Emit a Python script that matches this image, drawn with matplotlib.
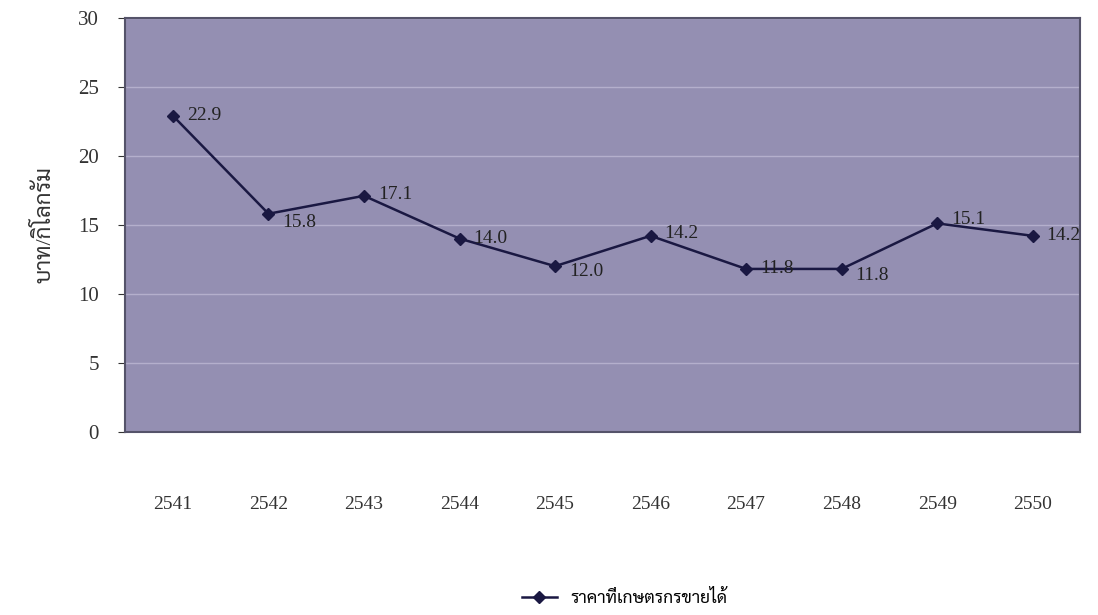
import matplotlib.pyplot as plt
from matplotlib import font_manager

# data
years = ["2541", "2542", "2543", "2544", "2545", "2546", "2547", "2548", "2549", "2550"]
price = [22.9, 15.8, 17.1, 14.0, 12.0, 14.2, 11.8, 11.8, 15.1, 14.2]
series_name = "ราคาที่เกษตรกรขายได้"
y_label = "บาท/กิโลกรัม"

# pick a Thai font that is installed
have = set(f.name for f in font_manager.fontManager.ttflist)
thai = [n for n in ["Sarabun", "Noto Serif Thai", "Noto Sans Thai", "Charmonman", "Athiti"] if n in have][:1]
plt.rcParams['font.family'] = ['Liberation Serif'] + thai + ['DejaVu Sans']

fig = plt.figure(figsize=(10.98, 6.15), dpi=100)
ax = fig.add_axes([0.114, 0.298, 0.870, 0.673])
ax.set_facecolor("#948fb2")

x = range(len(years))
ax.plot(x, price, color="#1a1842", lw=1.8, marker="D", ms=6, label=series_name)

# value labels, a few sit a bit lower in the original
dy = [0, -6, 1, 0, -4, 2, 0, -5, 3, 0]
for i, v in enumerate(price):
    ax.annotate("%.1f" % v, (i, v), xytext=(10, dy[i]), textcoords="offset points",
                va="center", ha="left", fontsize=14, color="#222222")

ax.set_xlim(-0.5, len(years) - 0.5)
ax.set_ylim(0, 30)
ax.set_yticks(range(0, 31, 5))
ax.set_xticks(list(x))
ax.set_xticklabels(years)
ax.grid(axis="y", color="#b4afcc", lw=1.0)
ax.set_axisbelow(True)

for s in ax.spines.values():
    s.set_color("#55536a")
    s.set_linewidth(1.5)

ax.tick_params(axis="y", length=5, pad=14, labelsize=15, colors="#333333")
ax.tick_params(axis="x", length=0, pad=46, labelsize=14, labelcolor="#333333")

ax.set_ylabel(y_label, fontsize=16, labelpad=16, color="#333333")

fig.legend(loc="lower center", bbox_to_anchor=(0.569, -0.012), frameon=False,
           fontsize=12.5, handlelength=2.0, handletextpad=0.8)

fig.savefig("out.png", dpi=100)
